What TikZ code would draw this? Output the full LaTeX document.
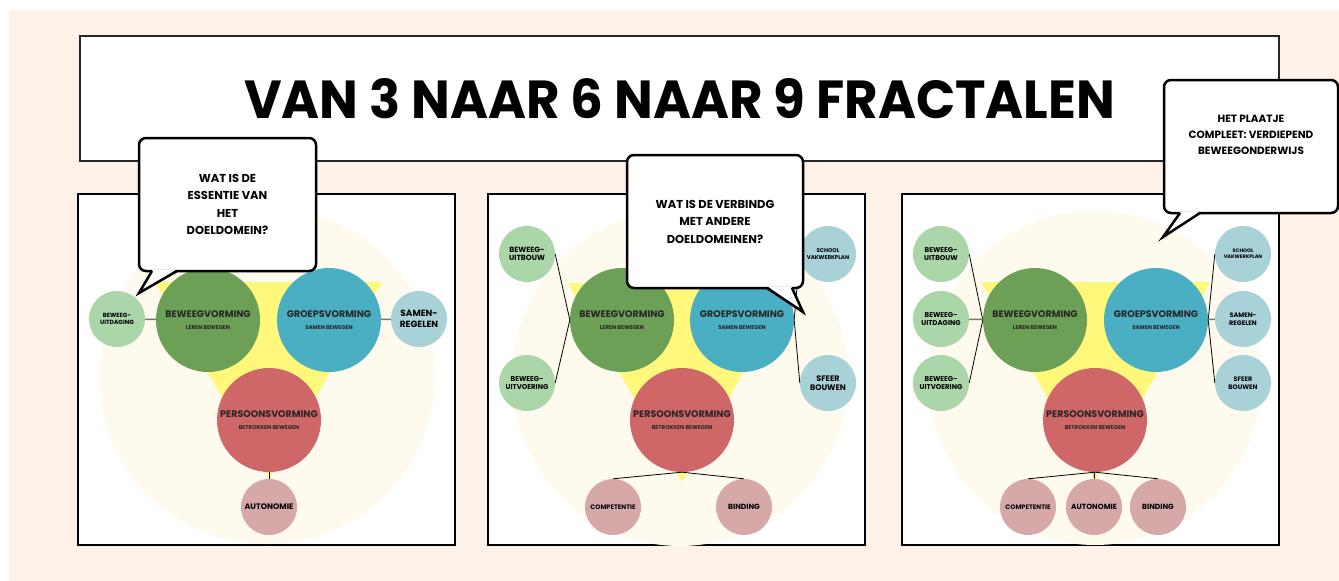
\documentclass[tikz,border=0pt]{standalone}
\usepackage{fontspec}
\usepackage{graphicx}
\setmainfont{Poppins}
\usetikzlibrary{calc}

\definecolor{peach}{RGB}{254,241,231}
\definecolor{pale}{RGB}{254,250,237}
\definecolor{tri}{RGB}{255,248,122}
\definecolor{vgreen}{RGB}{108,160,87}
\definecolor{vblue}{RGB}{74,175,195}
\definecolor{vred}{RGB}{207,102,104}
\definecolor{lgreen}{RGB}{170,214,169}
\definecolor{lblue}{RGB}{168,209,216}
\definecolor{lpink}{RGB}{214,168,168}

\newcommand{\vorm}[2]{{\fontsize{9.5}{10}\selectfont #1}\\[-0.5pt]{\fontsize{5.5}{6.5}\selectfont #2}}

\tikzset{
  panel/.style={draw=black, line width=2.5pt, fill=white},
  bigc/.style={circle, inner sep=0pt, minimum size=104pt, align=center, font=\bfseries, text=black!85},
  smallc/.style={circle, inner sep=0pt, minimum size=56pt, align=center, font=\bfseries\fontsize{6.5}{7.5}\selectfont},
  link/.style={black, line width=0.8pt},
  glink/.style={black!55, line width=1.5pt},
  bubble/.style={draw=black, line width=2.5pt, fill=white, rounded corners=7pt, align=center, inner sep=0pt, minimum height=133pt, font=\bfseries\fontsize{11.5}{17.5}\selectfont},
  tailline/.style={black, line width=2.5pt, line join=miter}
}

\begin{document}
\begin{tikzpicture}[x=1pt, y=-1pt]
\useasboundingbox (0,0) rectangle (1339,581);
\fill[peach] (9,10) rectangle (1339,581);

\node[draw=black!85, line width=2pt, fill=white, minimum width=1199pt, minimum height=125pt, inner sep=0pt] (title) at (679.5,98.5)
  {\resizebox{871pt}{40pt}{\bfseries\fontsize{50}{50}\selectfont VAN 3 NAAR 6 NAAR 9 FRACTALEN}};

\draw[panel] (78,194) rectangle (455,545);
\draw[panel] (488,194) rectangle (865,545);
\draw[panel] (902,194) rectangle (1279,545);

\fill[pale] (267,376) circle (168pt);
\fill[tri] (155,282) -- (382,282) -- (269,478) -- cycle;
\node[bigc, fill=vgreen] (bv1) at (208,320) {\vorm{BEWEEGVORMING}{LEREN BEWEGEN}};
\node[bigc, fill=vblue] (gv1) at (329,320) {\vorm{GROEPSVORMING}{SAMEN BEWEGEN}};
\node[bigc, fill=vred] (pv1) at (269,420) {\vorm{PERSOONSVORMING}{BETROKKEN BEWEGEN}};
\node[smallc, fill=lgreen, font=\bfseries\fontsize{6}{7}\selectfont] (ud1) at (117,319) {BEWEEG-\\UITDAGING};
\node[smallc, fill=lblue, font=\bfseries\fontsize{9}{10.5}\selectfont] (sr1) at (419,319) {SAMEN-\\REGELEN};
\node[smallc, fill=lpink, font=\bfseries\fontsize{8}{9}\selectfont] (au1) at (269,507) {AUTONOMIE};
\draw[glink] (ud1) -- (bv1);
\draw[glink] (gv1) -- (sr1);
\draw[link] (pv1) -- (au1);

\fill[pale] (680,378) circle (168pt);
\fill[tri] (568,283) -- (793,283) -- (682,482) -- cycle;
\node[bigc, fill=vgreen] (bv2) at (622,320) {\vorm{BEWEEGVORMING}{LEREN BEWEGEN}};
\node[bigc, fill=vblue] (gv2) at (742,320) {\vorm{GROEPSVORMING}{SAMEN BEWEGEN}};
\node[bigc, fill=vred] (pv2) at (682,420) {\vorm{PERSOONSVORMING}{BETROKKEN BEWEGEN}};
\node[smallc, fill=lgreen, font=\bfseries\fontsize{7.5}{8.5}\selectfont] (ub2) at (527,254) {BEWEEG-\\UITBOUW};
\node[smallc, fill=lgreen, font=\bfseries\fontsize{7}{8}\selectfont] (uv2) at (527,383) {BEWEEG-\\UITVOERING};
\node[smallc, fill=lblue, font=\bfseries\fontsize{5.5}{6.5}\selectfont] (sv2) at (828,254) {SCHOOL\\VAKWERKPLAN};
\node[smallc, fill=lblue, font=\bfseries\fontsize{8}{9}\selectfont] (sb2) at (828,383) {SFEER\\BOUWEN};
\node[smallc, fill=lpink, font=\bfseries\fontsize{6.5}{7.5}\selectfont] (co2) at (613,507) {COMPETENTIE};
\node[smallc, fill=lpink, font=\bfseries\fontsize{7.5}{8.5}\selectfont] (bi2) at (744,507) {BINDING};
\draw[link] (ub2.east) -- (bv2.west) -- (uv2.east);
\draw[link] (sv2.west) -- (gv2.east) -- (sb2.west);
\draw[link] (co2.north) -- (pv2.south) -- (bi2.north);

\fill[pale] (1095,378) circle (167pt);
\fill[tri] (981,282) -- (1210,282) -- (1095,480) -- cycle;
\node[bigc, fill=vgreen] (bv3) at (1035,320) {\vorm{BEWEEGVORMING}{LEREN BEWEGEN}};
\node[bigc, fill=vblue] (gv3) at (1156,320) {\vorm{GROEPSVORMING}{SAMEN BEWEGEN}};
\node[bigc, fill=vred] (pv3) at (1095,420) {\vorm{PERSOONSVORMING}{BETROKKEN BEWEGEN}};
\node[smallc, fill=lgreen, font=\bfseries\fontsize{7}{8}\selectfont] (ub3) at (941,254) {BEWEEG-\\UITBOUW};
\node[smallc, fill=lgreen, font=\bfseries\fontsize{7}{8}\selectfont] (ud3) at (941,319) {BEWEEG-\\UITDAGING};
\node[smallc, fill=lgreen, font=\bfseries\fontsize{7}{8}\selectfont] (uv3) at (941,383) {BEWEEG-\\UITVOERING};
\node[smallc, fill=lblue, font=\bfseries\fontsize{5}{6}\selectfont] (sv3) at (1243,254) {SCHOOL\\VAKWERKPLAN};
\node[smallc, fill=lblue] (sr3) at (1243,319) {SAMEN-\\REGELEN};
\node[smallc, fill=lblue] (sb3) at (1243,383) {SFEER\\BOUWEN};
\node[smallc, fill=lpink] (co3) at (1028,507) {COMPETENTIE};
\node[smallc, fill=lpink, font=\bfseries\fontsize{7.5}{8.5}\selectfont] (au3) at (1094,507) {AUTONOMIE};
\node[smallc, fill=lpink, font=\bfseries\fontsize{7.5}{8.5}\selectfont] (bi3) at (1158,507) {BINDING};
\draw[link] (ub3.east) -- (bv3.west) -- (uv3.east);
\draw[glink] (ud3) -- (bv3);
\draw[link] (sv3.west) -- (gv3.east) -- (sb3.west);
\draw[glink] (gv3) -- (sr3);
\draw[link] (co3.north) -- (pv3.south) -- (bi3.north);
\draw[link] (pv3) -- (au3);

\node[bubble, minimum width=177pt] (q1) at (227.5,204.5) {WAT IS DE\\ESSENTIE VAN\\HET\\DOELDOMEIN?};
\coordinate (q1a) at (152,271);
\coordinate (q1t) at (139,293);
\coordinate (q1b) at (177,271);
\fill[white] ($(q1a)+(0.8,-1.4)$) -- (q1t) -- ($(q1b)+(-0.8,-1.4)$) -- cycle;
\draw[tailline] (q1a) -- (q1t) -- (q1b);

\node[bubble, minimum width=176pt] (q2) at (715,221.5) {WAT IS DE VERBINDG\\MET ANDERE\\DOELDOMEINEN?};
\coordinate (q2a) at (767,288);
\coordinate (q2t) at (803,312);
\coordinate (q2b) at (792,288);
\fill[white] ($(q2a)+(0.8,-1.4)$) -- (q2t) -- ($(q2b)+(-0.8,-1.4)$) -- cycle;
\draw[tailline] (q2a) -- (q2t) -- (q2b);

\node[bubble, minimum width=174pt, font=\bfseries\fontsize{10.5}{16}\selectfont] (q3) at (1251,146.5) {HET PLAATJE\\COMPLEET: VERDIEPEND\\BEWEEGONDERWIJS\\[8pt]};
\coordinate (q3a) at (1180,213);
\coordinate (q3t) at (1163,237);
\coordinate (q3b) at (1200,213);
\fill[white] ($(q3a)+(0.8,-1.4)$) -- (q3t) -- ($(q3b)+(-0.8,-1.4)$) -- cycle;
\draw[tailline] (q3a) -- (q3t) -- (q3b);
\end{tikzpicture}
\end{document}
